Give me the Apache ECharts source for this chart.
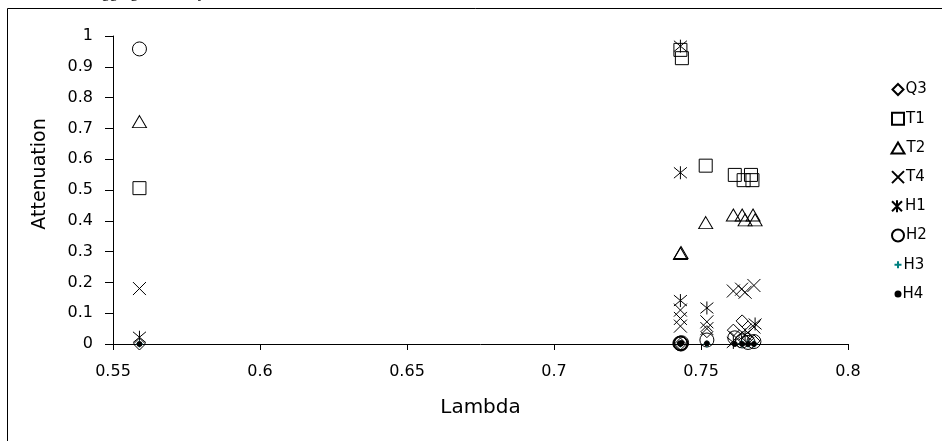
<!DOCTYPE html>
<html>
<head>
<meta charset="utf-8">
<script src="https://cdn.jsdelivr.net/npm/echarts@6/dist/echarts.min.js"></script>
<style>
html,body{margin:0;padding:0;background:#fff;}
#chart{width:942px;height:441px;}
</style>
</head>
<body>
<div id="chart"></div>
<script>
// Data: [lambda, attenuation]
const seriesNames = ['Q3','T1','T2','T4','H1','H2','H3','H4'];
const q3 = [[0.559,0],[0.743,0],[0.752,0.04],[0.761,0.045],[0.764,0.075],[0.766,0.02],[0.768,0.01]];
const t1 = [[0.559,0.506],[0.743,0.955],[0.7435,0.928],[0.7516,0.579],[0.7615,0.549],[0.7645,0.532],[0.767,0.549],[0.7675,0.532]];
const t2 = [[0.559,0.722],[0.743,0.294],[0.7432,0.297],[0.7516,0.394],[0.761,0.419],[0.764,0.419],[0.765,0.403],[0.7677,0.419],[0.7684,0.403]];
const t4 = [[0.559,0.18],[0.743,0.11],[0.743,0.083],[0.743,0.058],[0.752,0.072],[0.752,0.05],[0.761,0.172],[0.7638,0.178],[0.765,0.168],[0.768,0.19],[0.765,0.045],[0.768,0.055],[0.762,0.02]];
const h1 = [[0.559,0.022],[0.743,0.967],[0.743,0.556],[0.743,0.141],[0.752,0.117],[0.7684,0.065],[0.761,0.005],[0.765,0.03]];
const h2 = [[0.559,0.958],[0.743,0.003],[0.7432,0],[0.7428,0.002],[0.7434,0.004],[0.7431,0.001],[0.752,0.013],[0.7615,0.02],[0.764,0.01],[0.766,0.005],[0.768,0.008]];
const h3 = [[0.559,0],[0.743,0],[0.752,0],[0.761,-0.003],[0.764,0],[0.766,0],[0.768,0]];
const h4 = [[0.559,0],[0.743,0],[0.7428,0.002],[0.7434,0.003],[0.752,0.002],[0.7615,0],[0.764,0],[0.766,0],[0.768,0]];
const xTicks = {min:0.55, max:0.8, interval:0.05};
const yTicks = {min:0, max:1, interval:0.1};
const xName = 'Lambda';
const yName = 'Attenuation';
const titleText = 'Tagging efficiency';

const FONT = 'DejaVu Sans, Liberation Sans, Arial';
const seriesData = [q3,t1,t2,t4,h1,h2,h3,h4];
const X_PATH = 'path://M0,0L10,10M10,0L0,10';
const AST_PATH = 'path://M0,0L10,10M10,0L0,10M5,-1L5,11';
const PLUS_PATH = 'path://M5,0L5,10M0,5L10,5';
const symbols = ['diamond','rect','triangle',X_PATH,AST_PATH,'circle',PLUS_PATH,'circle'];
const sizes = [[12,12],[13,13],[14,12],[13,13],[13,13],[14,14],[7,7],[5,5]];
const legendSizes = [[11,11],[12,12],[13,11],[12,12],[12,12],[12,12],[7,7],[5,5]];
const fills = ['rgba(0,0,0,0)','rgba(0,0,0,0)','rgba(0,0,0,0)','rgba(0,0,0,0)','rgba(0,0,0,0)','rgba(0,0,0,0)','rgba(0,0,0,0)','#000'];
const strokes = ['#000','#000','#000','#000','#000','#000','#008080','#000'];

const series = seriesNames.map((n,i)=>({
  name:n, type:'scatter', data:seriesData[i],
  symbol:symbols[i], symbolSize:sizes[i],
  itemStyle:{color:fills[i], borderColor:strokes[i], borderWidth:1, opacity:1},
  emphasis:{disabled:true}, silent:true, animation:false
}));

const legends = seriesNames.map((n,i)=>({
  data:[{name:n, icon:symbols[i]}],
  left:891 + (12-legendSizes[i][0])/2, top:82 + i*29.2,
  itemWidth:legendSizes[i][0], itemHeight:legendSizes[i][1],
  itemGap:0, selectedMode:false,
  textStyle:{fontFamily:FONT, fontSize:15, color:'#000', padding:[0,0,0,-3]},
  padding:0
}));

const chart = echarts.init(document.getElementById('chart'), null, {renderer:'canvas'});
chart.setOption({
  animation:false,
  backgroundColor:'#fff',
  grid:{left:113, right:94, top:36, bottom:97, containLabel:false},
  xAxis:{type:'value', min:xTicks.min, max:xTicks.max, interval:xTicks.interval,
    name:xName, nameLocation:'middle', nameGap:54,
    nameTextStyle:{fontFamily:FONT, fontSize:20, color:'#000'},
    axisLine:{show:true, onZero:false, lineStyle:{color:'#000', width:1}},
    axisTick:{show:true, inside:false, length:6, lineStyle:{color:'#000'}},
    axisLabel:{color:'#000', fontFamily:FONT, fontSize:16, margin:20},
    splitLine:{show:false}},
  yAxis:{type:'value', min:yTicks.min, max:yTicks.max, interval:yTicks.interval,
    axisLine:{show:true, lineStyle:{color:'#000', width:1}},
    axisTick:{show:true, inside:false, length:8, lineStyle:{color:'#000'}},
    axisLabel:{color:'#000', fontFamily:FONT, fontSize:16, margin:20},
    splitLine:{show:false}},
  legend:legends,
  series:series,
  graphic:[
    {type:'rect', shape:{x:7.5, y:8.5, width:960, height:460}, style:{fill:'none', stroke:'#000', lineWidth:1}, silent:true},
    {type:'text', x:40, y:174, rotation:Math.PI/2, style:{text:yName, font:'19px "DejaVu Sans", sans-serif', fill:'#000', align:'center', verticalAlign:'middle'}, silent:true},
    {type:'text', left:86, top:-15, style:{text:titleText, font:'16px "Liberation Serif", serif', fill:'#000'}, silent:true}
  ]
});
</script>
</body>
</html>
